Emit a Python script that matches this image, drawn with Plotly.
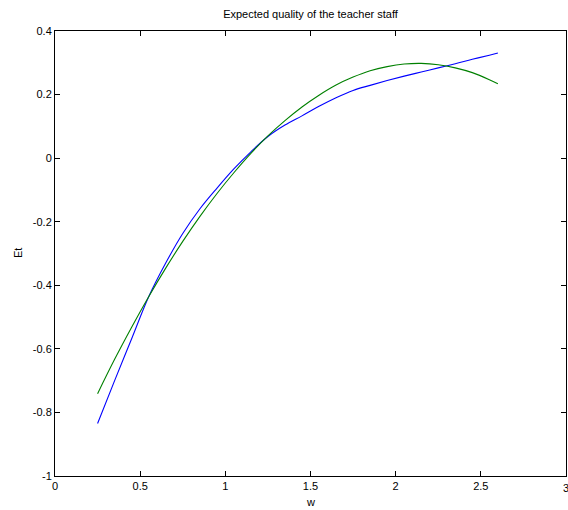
import plotly.graph_objects as go

w_vals = [0.25, 0.35, 0.45, 0.55, 0.65, 0.75, 0.85, 0.95, 1.05, 1.15, 1.25, 1.35,
          1.45, 1.55, 1.65, 1.75, 1.85, 1.95, 2.05, 2.15, 2.25, 2.35, 2.45, 2.55, 2.6]

et_blue = [-0.835, -0.700, -0.568, -0.436, -0.330, -0.237, -0.160, -0.095, -0.034,
           0.020, 0.068, 0.104, 0.133, 0.163, 0.190, 0.213, 0.229, 0.244, 0.258,
           0.271, 0.284, 0.297, 0.311, 0.324, 0.331]

et_green = [-0.741, -0.633, -0.532, -0.436, -0.346, -0.262, -0.184, -0.112, -0.046,
            0.015, 0.070, 0.118, 0.161, 0.198, 0.230, 0.255, 0.275, 0.288, 0.296,
            0.298, 0.294, 0.284, 0.269, 0.247, 0.234]

x_ticks = [0, 0.5, 1, 1.5, 2, 2.5, 3]
x_tick_text = ["0", "0.5", "1", "1.5", "2", "2.5", "3"]
y_ticks = [-1, -0.8, -0.6, -0.4, -0.2, 0, 0.2, 0.4]
y_tick_text = ["-1", "-0.8", "-0.6", "-0.4", "-0.2", "0", "0.2", "0.4"]

font_family = "Liberation Sans, Arial, sans-serif"
W, H = 568, 510
plot_top, plot_bottom, plot_left, plot_right = 31, 476, 55, 566
ph = plot_bottom - plot_top
pw = plot_right - plot_left

fig = go.Figure()
fig.add_trace(go.Scatter(x=w_vals, y=et_blue, mode="lines",
                         line=dict(color="#0000ff", width=1.1, shape="spline"),
                         showlegend=False))
fig.add_trace(go.Scatter(x=w_vals, y=et_green, mode="lines",
                         line=dict(color="#008000", width=1.1, shape="spline"),
                         showlegend=False))

axis_common = dict(showline=True, linecolor="black", linewidth=1, mirror="ticks",
                   ticks="inside", ticklen=5, tickcolor="black", tickwidth=1,
                   showgrid=False, zeroline=False, automargin=False,
                   tickfont=dict(family=font_family, size=11, color="black"))

# last x tick label drawn as an annotation (plotly drops labels overflowing the page)
x_axis_text = x_tick_text[:-1] + [""]
fig.update_xaxes(range=[0, 3], tickvals=x_ticks, ticktext=x_axis_text, **axis_common)
fig.update_yaxes(range=[-1, 0.4], tickvals=y_ticks, ticktext=y_tick_text, **axis_common)

label_font = dict(family=font_family, size=11, color="black")
fig.update_layout(
    width=W, height=H,
    margin=dict(l=plot_left, r=W - plot_right, t=plot_top, b=H - plot_bottom),
    plot_bgcolor="white", paper_bgcolor="white",
    title=dict(text="Expected quality of the teacher staff", x=0.5, xref="paper",
               y=1 - 14 / H, yref="container", yanchor="middle", font=label_font),
    annotations=[
        dict(text="w", x=0.5, xref="paper", y=(plot_bottom - 502) / ph, yref="paper",
             showarrow=False, yanchor="middle", font=label_font),
        dict(text="Et", x=(18 - plot_left) / pw, xref="paper",
             y=(plot_bottom - 253) / ph, yref="paper",
             showarrow=False, textangle=-90, xanchor="center", yanchor="middle",
             font=label_font),
        dict(text=x_tick_text[-1], x=x_ticks[-1], xref="x",
             y=(plot_bottom - 488) / ph, yref="paper",
             showarrow=False, xanchor="center", yanchor="middle", font=label_font),
    ],
)

fig.write_html("out.html", config={"displayModeBar": False},
               post_script="document.body.style.margin='0';document.body.style.overflow='hidden';")
